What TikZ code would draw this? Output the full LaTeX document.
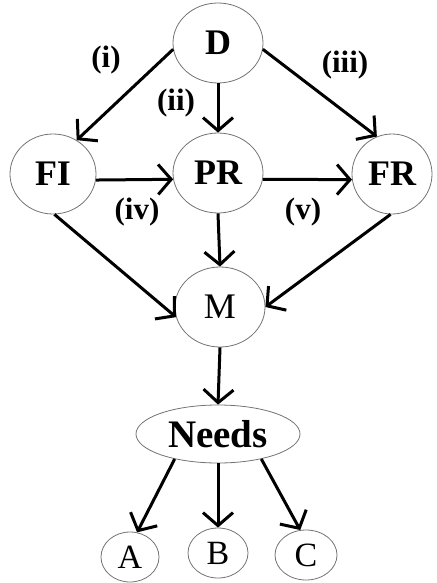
\documentclass[tikz,border=0pt]{standalone}
\usepackage{fontspec}
\setmainfont{Liberation Serif}
\usetikzlibrary{shapes.geometric,arrows.meta}

\begin{document}
\begin{tikzpicture}[x=0.5pt, y=-0.5pt,
	blob/.style={ellipse, draw=black!55, thin, inner sep=0pt, minimum width=45pt, minimum height=40pt, font=\fontsize{18}{18}\selectfont\bfseries},
	leaf/.style={ellipse, draw=black!55, thin, inner sep=0pt, minimum width=29pt, minimum height=25pt, font=\fontsize{17}{17}\selectfont},
	tag/.style={font=\fontsize{15.5}{15.5}\selectfont\bfseries},
	link/.style={line width=1.5pt, -{Straight Barb[length=6.5pt, width=15pt, line width=1.5pt]}}]
	\useasboundingbox (0,0) rectangle (436,583);
	% nodes
	\node[blob] (D) at (218,43) {D};
	\node[blob, minimum width=43pt] (FI) at (53,174) {FI};
	\node[blob] (PR) at (218,173) {PR};
	\node[blob, minimum width=40pt] (FR) at (392,174) {FR};
	\node[blob, font=\fontsize{18}{18}\selectfont] (M) at (220,307) {M};
	\node[blob, minimum width=82pt, minimum height=29pt, font=\fontsize{19.5}{19.5}\selectfont\bfseries] (N) at (218,434) {Needs};
	\node[leaf] (A) at (130,557) {A};
	\node[leaf, minimum width=30pt] (B) at (218,553) {B};
	\node[leaf, minimum width=31pt] (C) at (306,555) {C};
	% labels
	\node[tag] (li) at (106,60) {(i)};
	\node[tag] (lii) at (176,103) {(ii)};
	\node[tag] (liii) at (345,65) {(iii)};
	\node[tag] (liv) at (137,212) {(iv)};
	\node[tag] (lv) at (303,212) {(v)};
	% arrows
	\draw[link] (D.188) -- (FI.55);
	\draw[link] (D.south) -- (PR.north);
	\draw[link] (D.352) -- (FR.112);
	\draw[link] (FI.-8) -- (PR.188);
	\draw[link] (PR.-8) -- (FR.188);
	\draw[link] (FI.272) -- (M.193);
	\draw[link] (PR.south) -- (M.north);
	\draw[link] (FR.268) -- (M.east);
	\draw[link] (M.south) -- (N.north);
	\draw[link] (N.210) -- (A.74);
	\draw[link] (N.south) -- (B.north);
	\draw[link] (N.-30) -- (C.103);
\end{tikzpicture}
\end{document}
